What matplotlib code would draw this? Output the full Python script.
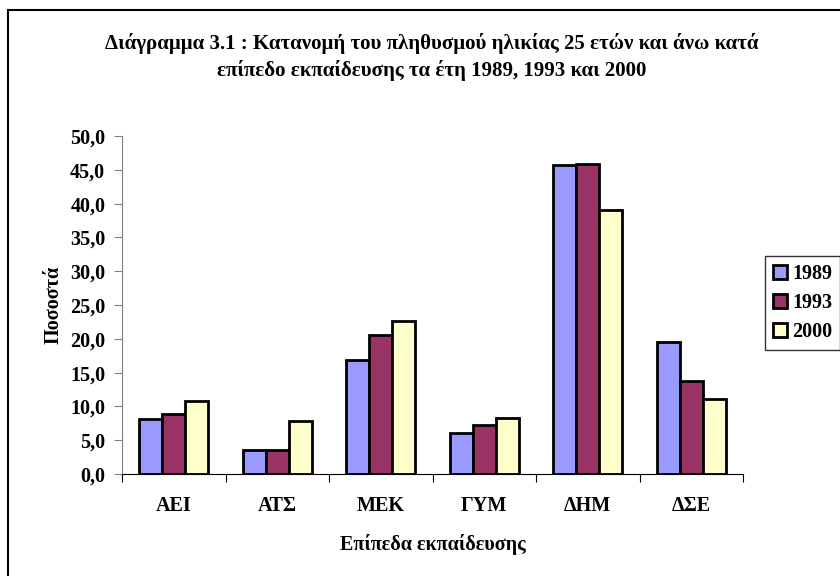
import matplotlib
matplotlib.use('Agg')
import matplotlib.pyplot as plt
import matplotlib.patches as patches
import numpy as np

categories = ['ΑΕΙ', 'ΑΤΣ', 'ΜΕΚ', 'ΓΥΜ', 'ΔΗΜ', 'ΔΣΕ']
years = ['1989', '1993', '2000']
values_1989 = [8.1, 3.6, 16.9, 6.0, 45.7, 19.5]
values_1993 = [8.9, 3.6, 20.6, 7.2, 45.9, 13.7]
values_2000 = [10.8, 7.9, 22.7, 8.3, 39.0, 11.1]
colors = ['#9999FF', '#993366', '#FFFFCC']

plt.rcParams['font.family'] = ['Liberation Serif', 'DejaVu Serif']
plt.rcParams['font.weight'] = 'bold'
FS = 14.5

W, H = 840, 576
fig = plt.figure(figsize=(W / 100, H / 100), dpi=100)

# outer chart border (extends past right/bottom edge)
fig.patches.append(patches.Rectangle((8 / W, -0.1), 2, 1.1 - 10 / H, transform=fig.transFigure,
                                     fill=False, edgecolor='black', linewidth=1.5))

ax = fig.add_axes([122 / W, 1 - 474 / H, (743 - 122) / W, (474 - 136) / H])

w = 1 / 4.5
x = np.arange(len(categories))
series = [values_1989, values_1993, values_2000]
handles = []
for j, (vals, col, yr) in enumerate(zip(series, colors, years)):
    b = ax.bar(x + (j - 1) * w, vals, w, color=col, edgecolor='black', linewidth=2, label=yr, zorder=3)
    handles.append(b)

ax.set_xlim(-0.5, len(categories) - 0.5)
ax.set_ylim(0, 50)
ax.set_yticks(np.arange(0, 50.1, 5))
ax.set_yticklabels([f'{v:.1f}'.replace('.', ',') for v in np.arange(0, 50.1, 5)], fontsize=FS, fontweight='bold')

ax.set_xticks(np.arange(-0.5, len(categories)), minor=False)
ax.set_xticklabels([])
ax.set_xticks(x, minor=True)
ax.set_xticklabels(categories, minor=True, fontsize=FS, fontweight='bold')
ax.tick_params(axis='x', which='minor', length=0, pad=16)
ax.tick_params(axis='x', which='major', length=6, direction='out', color='black')
ax.tick_params(axis='y', length=6, direction='out', color='#808080', pad=6)

for s in ['top', 'right']:
    ax.spines[s].set_visible(False)
ax.spines['left'].set_color('#808080')
ax.spines['bottom'].set_color('black')
ax.spines['bottom'].set_zorder(4)

ax.set_xlabel('Επίπεδα εκπαίδευσης', fontsize=FS, fontweight='bold', labelpad=13)
ax.set_ylabel('Ποσοστά', fontsize=FS, fontweight='bold', labelpad=5)

fig.text(432 / W, 1 - 57 / H,
         'Διάγραμμα 3.1 : Κατανομή του πληθυσμού ηλικίας 25 ετών και άνω κατά\n'
         'επίπεδο εκπαίδευσης τα έτη 1989, 1993 και 2000',
         ha='center', va='center', fontsize=15, fontweight='bold', linespacing=1.4)

leg = fig.legend(handles=handles, loc='upper left', bbox_to_anchor=(765 / W, 1 - 256 / H),
                 fontsize=FS, frameon=True, fancybox=False, shadow=False, borderpad=0.4,
                 handlelength=0.7, handleheight=0.7, handletextpad=0.25, labelspacing=0.45,
                 borderaxespad=0)
leg.get_frame().set_edgecolor('black')
leg.get_frame().set_linewidth(1)
for t in leg.get_texts():
    t.set_fontweight('bold')

fig.savefig('out.png', dpi=100)
